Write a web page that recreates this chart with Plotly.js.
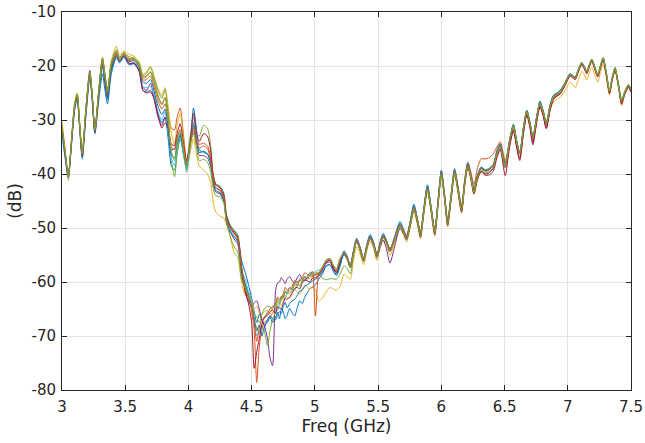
<!DOCTYPE html>
<html>
<head>
<meta charset="utf-8">
<script src="https://cdn.plot.ly/plotly-3.0.1.min.js"></script>
<style>html,body{margin:0;padding:0;background:#fff;}#chart{width:645px;height:443px;}</style>
</head>
<body>
<div id="chart"></div>
<script>
// Frequency points (GHz)
const freq = [3.00,3.025,3.05,3.075,3.10,3.12,3.14,3.16,3.19,3.22,3.24,3.26,3.29,3.32,3.34,3.36,3.39,3.43,3.455,3.49,
3.53,3.57,3.61,3.64,3.67,3.70,3.73,3.76,3.79,3.815,3.84,3.865,3.89,3.91,3.935,3.96,3.985,
4.01,4.04,4.065,4.085,4.12,4.15,4.175,4.195,4.215,4.25,4.28,4.30,4.33,4.36,4.39,4.42,
4.45,4.475,4.50,4.52,4.54,4.56,4.58,4.60,4.625,4.645,4.665,
4.69,4.705,4.72,4.735,4.75,4.765,4.78,4.80,4.82,4.84,4.86,4.88,4.90,4.92,4.94,4.96,4.98,
5.005,5.03,5.06,5.09,5.12,5.145,5.17,5.20,
5.23,5.255,5.28,5.305,5.33,5.36,5.385,5.41,5.437,5.465,5.49,5.515,5.54,5.565,5.594,5.63,5.673,5.70,5.725,5.755,5.783,5.81,5.835,5.86,5.89,5.92,5.948,5.975,6.00,6.025,6.05,6.078,6.105,6.13,6.16,6.185,6.21,6.235,6.258,6.285,6.315,6.345,6.375,6.41,6.44,6.466,6.505,
6.54,6.57,6.595,6.62,6.65,6.676,6.70,6.724,6.755,6.78,6.805,6.83,6.86,6.887,6.915,6.94,6.975,7.018,7.04,7.058,7.085,7.11,7.13,7.15,7.17,7.19,7.215,7.237,7.26,7.28,7.305,7.33,7.35,7.374,7.40,7.426,7.45,7.48,7.50];

// Measured responses (dB)
const s1 = [-32.5,-37,-40.8,-34.5,-28,-26,-31.5,-37,-29,-22,-26.8,-32.5,-26.5,-21.5,-24.5,-27,-21.5,-18.5,-19.3,-18.3,
-19.8,-19.6,-21,-24.5,-24.8,-24.5,-26,-29,-30.5,-29.5,-33.5,-38.5,-39.3,-36,-33.5,-36,-39,
-35.5,-27.8,-32,-35.5,-36,-36.3,-37,-40,-41.8,-42.3,-43.6,-47.5,-49.5,-50.5,-51.5,-56,
-58.3,-60.5,-63,-65.5,-67.5,-66,-67,-68,-67.5,-66.5,-67.5,
-66.5,-65.6,-66.8,-65,-65.5,-66.8,-66.2,-64.9,-65.7,-66.3,-64.8,-63.5,-64,-62.8,-62,-61.2,-61,
-60.5,-59.5,-58.5,-57,-56.8,-57.8,-58.6,-56.8,
-54.2,-55.2,-57.3,-54.2,-51.9,-53.7,-56,-53.1,-51.2,-52.7,-55.2,-52.6,-51,-52.2,-54.2,-51.6,-48.8,-50.1,-51.8,-48.6,-45.6,-48.2,-51.3,-46.6,-42,-46.2,-50.8,-44.6,-39.3,-43.7,-49.1,-43.6,-39,-42.2,-46.6,-41.2,-37.9,-40.2,-43.2,-40.2,-38.7,-39.2,-39,-38.2,-35.6,-34.4,-38.3,
-33.6,-30.8,-33.7,-36,-31.2,-28.2,-30.3,-33,-29.2,-26.5,-28.2,-30.5,-27.2,-25.4,-25,-24.5,-23.2,-21.4,-21.8,-22.1,-20.6,-19.4,-20.1,-21,-19.8,-18.8,-20.3,-21.6,-19.8,-18.5,-21.3,-24.6,-22.3,-20.4,-23.3,-26.5,-24.8,-23.5,-24.4];
const s2 = [-31.8,-36.3,-40.3,-33.8,-27.2,-25.3,-30.8,-36.8,-27.8,-21.3,-26,-32.2,-24.8,-18.8,-22,-25.3,-19.8,-17.6,-19,-18,
-18.8,-18.6,-19.7,-22,-21.8,-21.2,-23,-25.5,-27,-25.8,-28.5,-31.5,-31.8,-29.5,-27.8,-32.5,-37.5,
-34.5,-30.5,-33.5,-34.5,-34.3,-34.8,-36.8,-40.5,-42.5,-43,-44.5,-48,-50,-51,-52,-58,
-61.5,-63,-65.5,-69,-78.6,-72,-69,-67.5,-67,-66.5,-65.8,
-64.8,-63.6,-64,-62.6,-63,-61.8,-62.3,-61,-61.5,-60.2,-60.8,-59.6,-60,-59,-59.5,-58.7,-59,
-58.8,-58.5,-57.5,-56.2,-56,-57.2,-58,-56,
-54.4,-55.4,-56.8,-54.3,-52,-53.8,-55.6,-53.3,-51.4,-52.8,-54.8,-52.8,-51.3,-52.3,-53.8,-51.8,-49.2,-50.3,-51.4,-48.8,-46,-48.3,-50.8,-46.8,-42.4,-46.3,-50.3,-44.7,-39.5,-43.7,-48.5,-43.7,-39.2,-42,-45.8,-41,-37.8,-39.8,-42,-39,-37.2,-37.2,-37,-36.3,-35,-34,-37.5,
-33.8,-31,-33.8,-36,-31.3,-28.3,-30.3,-33.1,-29.3,-26.7,-28.3,-30.5,-27.3,-25.5,-25.1,-24.6,-23.3,-21.5,-21.8,-22.1,-20.7,-19.5,-20.2,-21.1,-19.9,-18.9,-20.4,-21.7,-19.9,-18.6,-21.4,-24.7,-22.4,-20.5,-23.4,-26.6,-24.9,-23.6,-24.5];
const s3 = [-30.3,-35.5,-41.2,-33.5,-26.8,-25,-30.5,-36,-27.5,-21,-25.5,-31.8,-24.5,-18.3,-21.5,-24.3,-19,-16.3,-18,-17.2,
-17.8,-18.2,-19.2,-21.5,-21,-20,-22,-24.2,-25.5,-24,-27.5,-32.5,-34.5,-31,-28.8,-33.5,-39.8,
-36.5,-33.5,-36.5,-38.5,-39.3,-40,-41.5,-45,-47,-47.8,-48.2,-49.3,-51.5,-54.5,-55.5,-60,
-62.5,-62,-63.5,-65,-64.5,-65.8,-66.2,-65.5,-65.2,-66,-64.8,
-64.5,-63.2,-63.8,-64.3,-63.5,-62.5,-62.8,-63,-62.3,-61.5,-61.8,-62.2,-61.5,-60.6,-61,-61.4,-60.8,
-61.5,-63.5,-63,-61.8,-61,-61.3,-61.5,-60.8,
-58.5,-59,-59.5,-56,-53.5,-55,-56.8,-54.3,-52.5,-53.8,-56,-53.8,-52.3,-53.3,-55,-52.8,-50.2,-51.3,-52.6,-49.8,-47,-49.3,-52,-47.8,-43.4,-47.3,-51.5,-45.8,-40.5,-44.8,-49.8,-44.8,-40.3,-43.3,-47.3,-42.3,-39,-41.3,-43.8,-41.2,-39.5,-40,-39.8,-39,-36.5,-35.3,-38.8,
-34.5,-31.8,-34.6,-36.8,-32,-29,-31,-33.8,-30,-27.5,-29,-31.2,-28.2,-26.6,-26.2,-25.8,-24.7,-23,-23.5,-24,-22.5,-21,-21.6,-22.6,-21.3,-20.3,-21.8,-23,-21,-19.6,-22.2,-25.4,-23,-20.9,-23.8,-27.3,-25.4,-24,-24.9];
const s4 = [-31.2,-36,-40.5,-34.2,-27.5,-25.8,-31.2,-36.3,-27.6,-20.8,-25.6,-31.7,-24.8,-18.6,-21.6,-24.6,-19.6,-17.3,-18.5,-17.6,
-19.5,-19.4,-20.8,-24,-24.5,-23.2,-26.3,-29.5,-31,-29.5,-32.5,-35.5,-35.3,-33.5,-32.5,-35.5,-38,
-35,-32,-34.5,-36.5,-36.6,-37,-38.5,-41.5,-43.3,-43.7,-45,-48.5,-50.5,-52,-53,-58.5,
-61.8,-63.5,-64.5,-63.8,-63.5,-65,-66.8,-68,-70.5,-74,-75.5,
-61.4,-60.2,-60,-59.2,-59.7,-60.3,-59.5,-59,-59.8,-60.2,-59.2,-58.6,-59.5,-59.8,-59,-58.4,-58.8,
-58.5,-58.5,-57.5,-56.3,-56,-57.3,-58.2,-56.3,
-55,-55.8,-57.3,-54.8,-52.5,-54.3,-56.2,-53.8,-52,-53.4,-55.5,-53.6,-52.2,-53.8,-56.5,-53.5,-50,-51,-52.2,-49.5,-46.6,-49,-51.7,-47.5,-42.9,-47,-51.2,-45.5,-40.1,-44.5,-49.5,-44.5,-39.8,-43,-47,-42,-38.6,-41,-43.6,-41,-39.4,-40,-39.8,-39,-36.4,-35.2,-38.8,
-34.6,-31.8,-34.8,-37.2,-32.2,-28.9,-31.2,-34.6,-30.1,-27.4,-29.1,-31.5,-28,-26,-25.5,-25.1,-23.7,-21.8,-22.1,-22.5,-20.9,-19.7,-20.4,-21.4,-20.1,-19.1,-20.6,-22,-20.1,-18.8,-21.7,-25.1,-22.7,-20.7,-23.7,-27.1,-25.2,-23.9,-24.8];
const s5 = [-31,-35.7,-40.2,-33.7,-27,-25.2,-30.6,-36,-27.5,-21.2,-25.8,-32,-24.7,-18.6,-21.7,-24.5,-19.4,-17,-18.4,-17.5,
-18.3,-18.5,-19.5,-21.8,-21.3,-20.3,-22.3,-24.6,-26,-24.4,-29,-37.5,-40.5,-36.5,-33,-36.5,-38.8,
-33.5,-30.5,-32.5,-33,-31,-31.5,-34.5,-40,-41.8,-42.3,-43.8,-47.5,-49.5,-50.3,-51.3,-57,
-60.5,-62,-64.5,-67,-68.5,-69.5,-68,-69,-71.8,-69,-67,
-65.5,-64.2,-64,-63.4,-62.8,-61.8,-62,-61.6,-61.2,-60,-60.3,-60.6,-59.8,-59,-59.2,-58.9,-58.5,
-58.2,-58.5,-59.3,-59.6,-59.4,-59.4,-59.5,-58.5,
-57,-57.5,-58.5,-55,-52.4,-54.1,-55.9,-53.5,-51.6,-52.9,-54.9,-52.9,-51.4,-52.4,-53.9,-51.9,-49.2,-50.4,-51.5,-48.8,-45.9,-48.3,-50.9,-46.8,-42.3,-46.3,-50.4,-44.8,-39.5,-43.8,-48.6,-43.8,-39.2,-42.3,-46.1,-41.3,-38,-40.3,-42.8,-40.3,-38.8,-39.3,-39.1,-38.3,-35.8,-34.5,-38.1,
-33.9,-31.1,-33.9,-36.1,-31.4,-28.4,-30.4,-33.2,-29.4,-26.8,-28.4,-30.6,-27.4,-25.6,-25.2,-24.7,-23.3,-21.4,-21.7,-22,-20.5,-19.3,-20,-20.9,-19.7,-18.7,-20.2,-21.5,-19.7,-18.4,-21.2,-24.4,-22.2,-20.2,-23.2,-26.2,-24.7,-23.4,-24.3];
const s6 = [-32.8,-37.2,-40.7,-34.7,-28.2,-26.2,-31.8,-37.3,-29,-22.2,-26.5,-32.6,-25.6,-19.8,-23,-26,-20.8,-18.3,-19.5,-18.4,
-19.7,-19.3,-20.6,-23.8,-24,-23.8,-25.5,-28.5,-30,-28.5,-32.5,-37,-38.5,-35,-33,-36.2,-39.5,
-35.8,-29.5,-33,-36,-35.8,-36.2,-37.5,-40.8,-42.5,-43.2,-44.7,-48.2,-50.3,-51.5,-52.5,-58,
-59.5,-61.8,-63.5,-66.5,-70,-69,-67.5,-66.5,-65.5,-65,-64.5,
-64.8,-65.3,-64.2,-63,-62.5,-63,-62,-61,-61.3,-61.5,-60.2,-59.4,-59.7,-59.5,-59,-58.2,-58.5,
-58,-57.8,-57.2,-56,-55.8,-57,-57.8,-55.8,
-54.3,-55.3,-56.9,-54.2,-52,-53.8,-55.7,-53.2,-51.3,-52.8,-55,-52.8,-51.2,-52.3,-54,-51.8,-49,-50.3,-51.7,-48.7,-45.8,-48.3,-51.1,-46.7,-42.2,-46.3,-50.6,-44.7,-39.5,-43.9,-48.9,-43.8,-39.2,-42.3,-46.4,-41.3,-38,-40.4,-43.1,-40.4,-38.9,-39.4,-39.3,-38.4,-35.8,-34.6,-38.4,
-34,-31.2,-34.1,-36.3,-31.6,-28.6,-30.6,-33.4,-29.6,-27,-28.6,-30.8,-27.6,-25.8,-25.3,-24.9,-23.5,-21.7,-22,-22.3,-20.8,-19.6,-20.3,-21.2,-20,-19,-20.5,-21.8,-20,-18.7,-21.5,-24.8,-22.5,-20.6,-23.5,-26.7,-25,-23.7,-24.6];
const s7 = [-31.7,-36.5,-40.3,-34.3,-27.8,-25.9,-31.3,-36.8,-28.5,-21.8,-26.2,-32.3,-25.3,-19.5,-22.8,-25.8,-20.5,-18,-19.2,-18.2,
-19.6,-19.5,-20.9,-24.5,-25,-24.8,-26.2,-29.2,-31.5,-30.5,-31.5,-34.5,-34.7,-32.5,-30.7,-34.2,-37.6,
-34.8,-28.8,-32.5,-34,-32.5,-33,-35.5,-40.2,-42,-42.6,-44,-47.8,-49.8,-50.8,-51.8,-57.2,
-62,-64,-67.5,-76,-73,-70.5,-68,-66.5,-66.2,-65.5,-65.2,
-65.8,-64.6,-64.8,-64.9,-64,-63,-63.2,-62.8,-62,-61.2,-61,-61.3,-60.2,-59.6,-59.8,-60,-59.3,
-59.2,-58.8,-57.8,-56.5,-56.3,-57.5,-58.3,-56.5,
-54.8,-55.7,-57.2,-54.7,-52.5,-54.2,-56,-53.7,-51.9,-53.2,-55.2,-53.2,-51.7,-52.7,-54.3,-52.2,-49.6,-50.7,-51.9,-49.2,-46.4,-48.8,-51.4,-47.3,-42.8,-46.8,-51,-45.3,-40,-44.3,-49.3,-44.3,-39.8,-42.8,-46.8,-41.8,-38.6,-40.9,-43.6,-41,-39.6,-40.2,-40.2,-39.5,-37,-35.5,-40.3,
-35,-32,-35,-37.5,-32.5,-29,-31.3,-34.2,-30.3,-27.6,-29.2,-31.6,-28.2,-26.2,-25.6,-25.2,-23.8,-21.9,-22.2,-22.5,-21,-19.8,-20.5,-21.4,-20.2,-19.2,-20.7,-22,-20.2,-18.9,-21.7,-25,-22.7,-20.8,-23.7,-26.9,-25.2,-23.9,-24.8];
const s8 = [-31.9,-36.4,-40.6,-34.1,-27.7,-25.6,-31.1,-36.6,-28.2,-21.6,-26.1,-32.1,-25.5,-20,-23.3,-26.2,-20.8,-18.2,-19.1,-18.1,
-19.2,-19,-20.2,-23,-23.2,-22.5,-24.8,-27.5,-29,-28,-31.5,-36.5,-37,-34.5,-32.8,-35.5,-38.5,
-35.2,-31,-34.2,-36,-35.8,-36.3,-38,-41.3,-43,-43.5,-45,-48.8,-50.8,-51.6,-52.5,-58.2,
-60.5,-62.5,-64.2,-67,-69,-68,-70,-68.5,-67,-66.2,-66.8,
-67,-66,-65.5,-65.8,-64.5,-63.8,-64.8,-64,-63.5,-63.2,-62.5,-61.7,-61.5,-60.8,-60.5,-60.2,-59.8,
-59.5,-59,-58.2,-57,-56.8,-58,-58.8,-57,
-54.5,-55.4,-56.9,-54.4,-52.2,-53.9,-55.7,-53.4,-51.5,-52.9,-54.9,-52.9,-51.3,-52.4,-53.9,-51.9,-49.2,-50.4,-51.5,-48.8,-45.9,-48.4,-50.9,-46.8,-42.3,-46.4,-50.5,-44.8,-39.5,-43.9,-48.7,-43.9,-39.3,-42.4,-46.2,-41.4,-38.1,-40.4,-42.9,-40.4,-38.9,-39.4,-39.2,-38.4,-35.9,-34.6,-38.2,
-33.7,-30.9,-33.8,-36.1,-31.3,-28.3,-30.4,-33.2,-29.3,-26.7,-28.3,-30.6,-27.3,-25.5,-25.1,-24.6,-23.3,-21.5,-21.9,-22.2,-20.7,-19.5,-20.2,-21.1,-19.9,-18.9,-20.4,-21.7,-19.9,-18.6,-21.4,-24.7,-22.4,-20.5,-23.4,-26.6,-24.9,-23.6,-24.5];
const s9 = [-31.3,-35.8,-40.4,-33.9,-27.4,-25.4,-30.9,-36.4,-27.9,-21.4,-25.9,-31.9,-24.9,-18.9,-22.2,-25.1,-19.9,-17.7,-18.9,-17.9,
-19,-18.8,-20,-22.6,-22.5,-21.8,-24,-26.5,-28,-27,-30.5,-35,-35.5,-33.2,-31.8,-35,-38.2,
-35,-31.5,-34,-35.2,-34.8,-35.3,-37.3,-40.8,-42.6,-43,-44.5,-48.3,-50,-51,-52,-57.5,
-61,-62.8,-64,-67.5,-71,-68.5,-67,-66.8,-65.8,-65,-64.6,
-64,-62.8,-63.2,-62.8,-62.2,-61,-61.5,-61.2,-60.8,-59.7,-60,-59.8,-59.3,-58.3,-58.6,-58.8,-58,
-66.3,-58.5,-57.5,-56,-55.8,-57,-57.8,-55.8,
-54.6,-55.5,-57,-54.5,-52.3,-54,-55.8,-53.5,-51.7,-53,-55,-53,-51.5,-52.5,-54,-52,-49.4,-50.5,-51.6,-49,-46.2,-48.5,-51,-47,-42.6,-46.5,-50.5,-45,-39.8,-44,-48.8,-44,-39.5,-42.5,-46.3,-41.5,-38.3,-40.5,-43,-40.5,-39,-39.5,-39.3,-38.5,-36,-34.8,-38.3,
-34.1,-31.3,-34.1,-36.3,-31.6,-28.6,-30.6,-33.4,-29.6,-27,-28.6,-30.8,-27.6,-25.9,-25.4,-25,-23.6,-21.8,-22.1,-22.4,-20.9,-19.7,-20.4,-21.3,-20.1,-19.1,-20.6,-21.9,-20.1,-18.8,-21.6,-24.9,-22.6,-20.7,-23.6,-26.8,-25.1,-23.8,-24.7];
const s10 = [-31.4,-35.9,-40.5,-33.8,-27.3,-25.3,-30.8,-36.2,-27.7,-21.3,-25.7,-31.8,-24.7,-18.7,-21.8,-24.7,-19.6,-17.3,-18.6,-17.7,
-18.6,-18.7,-19.8,-22.3,-22,-21,-23.2,-25.8,-27.2,-26,-30,-35.8,-37.5,-34,-32,-35.2,-38.6,
-35.3,-32.5,-35.2,-37.5,-37.3,-37.8,-39.5,-42.5,-44,-44.2,-45.4,-49,-51.5,-53.5,-54.5,-59.5,
-61.2,-62.5,-64,-65.8,-66.5,-67.5,-66,-65,-64.5,-64.6,-65,
-64.2,-63,-63.5,-63.1,-62.5,-61.6,-62,-62.1,-61.5,-60.6,-60.5,-60.8,-60,-59,-59.3,-59.4,-58.8,
-58.6,-58.2,-57.2,-55.9,-55.6,-56.8,-57.5,-55.5,
-54.9,-55.8,-57.4,-54.8,-52.6,-54.3,-56.2,-53.8,-52,-53.3,-55.4,-53.3,-51.8,-52.8,-54.4,-52.3,-49.7,-50.8,-52,-49.3,-46.5,-48.8,-51.4,-47.3,-42.9,-46.8,-50.9,-45.3,-40.1,-44.3,-49.2,-44.3,-39.8,-42.8,-46.7,-41.8,-38.6,-40.8,-43.4,-40.8,-39.3,-39.8,-39.6,-38.8,-36.3,-35.1,-38.6,
-33.8,-31,-33.9,-36.1,-31.4,-28.4,-30.4,-33.2,-29.4,-26.8,-28.4,-30.6,-27.4,-25.6,-25.2,-24.7,-23.3,-21.5,-21.8,-22.1,-20.6,-19.4,-20.1,-21,-19.8,-18.8,-20.3,-21.6,-19.8,-18.5,-21.3,-24.6,-22.3,-20.4,-23.3,-26.4,-24.8,-23.5,-24.4];

const seriesList = [s1, s2, s3, s4, s5, s6, s7, s8, s9, s10];
const colors = ['#0072BD','#D95319','#EDB120','#7E2F8E','#77AC30','#4DBEEE','#A2142F','#0072BD','#D95319','#77AC30'];

const xTickVals = [3, 3.5, 4, 4.5, 5, 5.5, 6, 6.5, 7, 7.5];
const xTickText = ['3', '3.5', '4', '4.5', '5', '5.5', '6', '6.5', '7', '7.5'];
const yTickVals = [-80, -70, -60, -50, -40, -30, -20, -10];
const yTickText = ['-80', '-70', '-60', '-50', '-40', '-30', '-20', '-10'];

const traces = seriesList.map((s, i) => ({
  x: freq, y: s, type: 'scatter', mode: 'lines',
  line: {color: colors[i], width: 1, shape: 'spline', smoothing: 0.7},
  hoverinfo: 'skip'
}));

const fontFam = 'DejaVu Sans, sans-serif';
const axisCommon = {
  showline: true, linecolor: '#262626', linewidth: 1, mirror: 'ticks',
  ticks: 'inside', ticklen: 5, tickcolor: '#262626', tickwidth: 1,
  showgrid: true, gridcolor: '#e3e3e3', gridwidth: 1, zeroline: false,
  tickfont: {family: fontFam, size: 15, color: '#262626'}
};

const layout = {
  width: 645, height: 443,
  margin: {l: 62, r: 14, t: 12, b: 53},
  paper_bgcolor: '#ffffff', plot_bgcolor: '#ffffff',
  showlegend: false,
  xaxis: Object.assign({}, axisCommon, {
    range: [3, 7.5], tickmode: 'array', tickvals: xTickVals, ticktext: xTickText,
    ticklabelstandoff: 3,
    title: {text: 'Freq (GHz)', font: {family: fontFam, size: 17, color: '#262626'}, standoff: 4}
  }),
  yaxis: Object.assign({}, axisCommon, {
    range: [-80, -10], tickmode: 'array', tickvals: yTickVals, ticktext: yTickText,
    ticklabelstandoff: 2,
    title: {text: '(dB)', font: {family: fontFam, size: 17, color: '#262626'}, standoff: 5}
  })
};

Plotly.newPlot('chart', traces, layout, {staticPlot: true, displayModeBar: false});
</script>
</body>
</html>
